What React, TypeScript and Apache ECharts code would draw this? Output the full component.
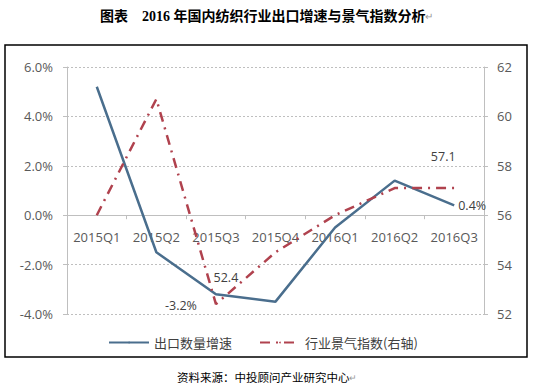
import React, { useEffect, useRef } from "react";
import * as echarts from "echarts";

const categories = ["2015Q1", "2015Q2", "2015Q3", "2015Q4", "2016Q1", "2016Q2", "2016Q3"];
const exportGrowth = [5.2, -1.5, -3.2, -3.5, -0.5, 1.4, 0.4];
const prosperityIndex = [56.0, 60.7, 52.4, 54.5, 56.0, 57.1, 57.1];
const leftTicks = { min: -4, max: 6, interval: 2 };
const rightTicks = { min: 52, max: 62, interval: 2 };

const BLUE = "#4a6e8d";
const RED = "#b0424e";
const LABEL_FONT = "'Open Sans', 'Noto Sans CJK SC', sans-serif";

const W = 533;
const H = 386;
const GRID = { left: 67, right: 49, top: 67, bottom: 72 };

export default function App() {
  const ref = useRef<HTMLDivElement>(null);
  useEffect(() => {
    if (!ref.current) return;
    const chart = echarts.init(ref.current, undefined, { renderer: "svg" });
    const labelBase = { show: true, color: "#404040", fontSize: 12.5, fontFamily: LABEL_FONT };
    const plotH = H - GRID.top - GRID.bottom;
    const zeroOffset = -plotH * (0 - leftTicks.min) / (leftTicks.max - leftTicks.min);
    chart.setOption({
      animation: false,
      backgroundColor: "#ffffff",
      title: [
        {
          text: "图表　2016 年国内纺织行业出口增速与景气指数分析{m|↵}",
          left: 95,
          top: 3,
          textStyle: {
            fontFamily: "'Liberation Serif', 'Noto Sans CJK SC', serif",
            fontWeight: "bold",
            fontSize: 14,
            lineHeight: 16,
            color: "#000",
            rich: { m: { color: "#999", fontSize: 10, fontWeight: "normal", lineHeight: 16 } },
          },
        },
        {
          text: "资料来源：中投顾问产业研究中心{m|↵}",
          left: 172,
          top: 365,
          textStyle: {
            fontFamily: "'Noto Sans CJK SC', sans-serif",
            fontWeight: "normal",
            fontSize: 11.5,
            lineHeight: 14,
            color: "#000",
            rich: { m: { color: "#999", fontSize: 9, lineHeight: 14 } },
          },
        },
      ],
      graphic: [
        {
          type: "rect",
          shape: { x: 5, y: 45, width: 522, height: 312 },
          style: { fill: "none", stroke: "#000", lineWidth: 1.5 },
          silent: true,
        },
      ],
      legend: {
        left: 103,
        top: 331,
        itemWidth: 40,
        itemHeight: 2,
        itemGap: 27,
        textStyle: { fontFamily: "'Noto Sans CJK SC', sans-serif", fontSize: 13, color: "#404040" },
        data: ["出口数量增速", "行业景气指数(右轴)"],
      },
      grid: GRID,
      xAxis: {
        type: "category",
        data: categories,
        boundaryGap: true,
        offset: zeroOffset,
        axisLine: { onZero: false, lineStyle: { color: "#bfbfbf", width: 1 } },
        axisTick: { show: true, length: 4, lineStyle: { color: "#bfbfbf" } },
        axisLabel: { interval: 0, margin: 15, color: "#595959", fontSize: 13, fontFamily: LABEL_FONT },
      },
      yAxis: [
        {
          type: "value",
          min: leftTicks.min,
          max: leftTicks.max,
          interval: leftTicks.interval,
          axisLine: { show: true, lineStyle: { color: "#bfbfbf" } },
          axisTick: { show: true, length: 4, lineStyle: { color: "#bfbfbf" } },
          axisLabel: { margin: 14, color: "#595959", fontSize: 13, fontFamily: LABEL_FONT, formatter: (v: number) => v.toFixed(1) + "%" },
          splitLine: { show: true, lineStyle: { color: "#bfbfbf", type: [2, 2], width: 1 } },
        },
        {
          type: "value",
          min: rightTicks.min,
          max: rightTicks.max,
          interval: rightTicks.interval,
          position: "right",
          axisLine: { show: true, lineStyle: { color: "#bfbfbf" } },
          axisTick: { show: true, length: 4, lineStyle: { color: "#bfbfbf" } },
          axisLabel: { margin: 13, color: "#595959", fontSize: 13, fontFamily: LABEL_FONT },
          splitLine: { show: false },
        },
      ],
      series: [
        {
          name: "出口数量增速",
          type: "line",
          yAxisIndex: 0,
          data: exportGrowth,
          symbol: "none",
          lineStyle: { color: BLUE, width: 2.5 },
          itemStyle: { color: BLUE },
          markPoint: {
            symbol: "circle",
            symbolSize: 0,
            silent: true,
            data: [
              {
                coord: [2, exportGrowth[2]],
                value: exportGrowth[2],
                label: { ...labelBase, position: "bottom", distance: 5, offset: [-35, 0], formatter: exportGrowth[2].toFixed(1) + "%" },
              },
              {
                coord: [6, exportGrowth[6]],
                value: exportGrowth[6],
                label: { ...labelBase, position: "right", distance: 4, formatter: exportGrowth[6].toFixed(1) + "%" },
              },
            ],
          },
        },
        {
          name: "行业景气指数(右轴)",
          type: "line",
          yAxisIndex: 1,
          data: prosperityIndex,
          symbol: "none",
          lineStyle: { color: RED, width: 2.5, type: [10, 6, 2, 6] },
          itemStyle: { color: RED },
          markPoint: {
            symbol: "circle",
            symbolSize: 0,
            silent: true,
            data: [
              {
                coord: [2, prosperityIndex[2]],
                value: prosperityIndex[2],
                label: { ...labelBase, position: "top", distance: 5, offset: [10, -15], formatter: prosperityIndex[2].toFixed(1) },
              },
              {
                coord: [6, prosperityIndex[6]],
                value: prosperityIndex[6],
                label: { ...labelBase, position: "top", distance: 5, offset: [-11, -20], formatter: prosperityIndex[6].toFixed(1) },
              },
            ],
          },
        },
      ],
    });
    return () => chart.dispose();
  }, []);
  return (
    <div
      ref={ref}
      style={{ position: "fixed", left: 0, top: 0, width: W, height: H }}
    />
  );
}
